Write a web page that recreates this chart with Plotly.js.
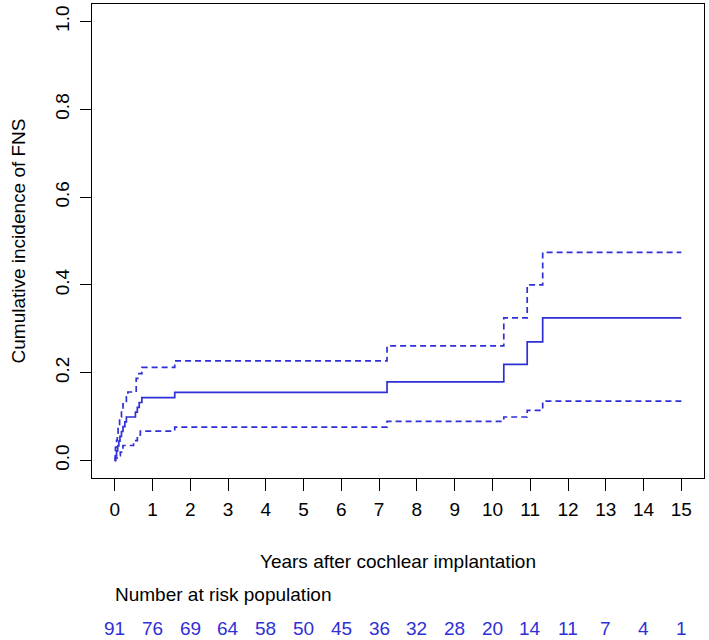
<!DOCTYPE html>
<html>
<head>
<meta charset="utf-8">
<script src="https://cdn.plot.ly/plotly-3.0.1.min.js"></script>
<style>html,body{margin:0;padding:0;background:#fff;}#chart{width:709px;height:640px;}</style>
</head>
<body>
<div id="chart"></div>
<script>
// Cumulative incidence estimate (step function)
var estTime = [0, 0.02, 0.05, 0.08, 0.11, 0.14, 0.18, 0.22, 0.27, 0.31, 0.55, 0.60, 0.65, 0.72, 1.59, 7.21, 10.30, 10.92, 11.33, 15.0];
var estValue = [0, 0.011, 0.022, 0.033, 0.044, 0.055, 0.066, 0.077, 0.088, 0.099, 0.110, 0.121, 0.132, 0.143, 0.155, 0.179, 0.219, 0.270, 0.325, 0.325];

// Upper confidence limit
var upperTime = [0, 0.02, 0.05, 0.07, 0.09, 0.13, 0.18, 0.22, 0.31, 0.35, 0.57, 0.64, 0.72, 1.59, 7.21, 10.30, 10.92, 11.33, 15.0];
var upperValue = [0, 0.030, 0.046, 0.062, 0.076, 0.099, 0.114, 0.129, 0.145, 0.156, 0.187, 0.198, 0.212, 0.227, 0.261, 0.325, 0.400, 0.474, 0.474];

// Lower confidence limit
var lowerTime = [0, 0.02, 0.06, 0.15, 0.22, 0.50, 0.60, 0.68, 1.59, 7.21, 10.30, 10.92, 11.33, 15.0];
var lowerValue = [0, 0.005, 0.011, 0.019, 0.034, 0.045, 0.058, 0.067, 0.076, 0.089, 0.099, 0.114, 0.135, 0.135];

// Number at risk table
var riskTimes = [0, 1, 2, 3, 4, 5, 6, 7, 8, 9, 10, 11, 12, 13, 14, 15];
var atRisk = [91, 76, 69, 64, 58, 50, 45, 36, 32, 28, 20, 14, 11, 7, 4, 1];

var xTicks = [0, 1, 2, 3, 4, 5, 6, 7, 8, 9, 10, 11, 12, 13, 14, 15];
var yTicks = [0, 0.2, 0.4, 0.6, 0.8, 1.0];
var yTickLabels = ["0.0", "0.2", "0.4", "0.6", "0.8", "1.0"];

var blue = "#2f2fd6";
var fontFam = "Liberation Sans, Arial, sans-serif";
var fs = 19;

var traces = [
  {x: estTime, y: estValue, mode: "lines", line: {shape: "hv", color: blue, width: 1.7}, hoverinfo: "skip"},
  {x: upperTime, y: upperValue, mode: "lines", line: {shape: "hv", color: blue, width: 1.7, dash: "6px,4px"}, hoverinfo: "skip"},
  {x: lowerTime, y: lowerValue, mode: "lines", line: {shape: "hv", color: blue, width: 1.7, dash: "6px,4px"}, hoverinfo: "skip"}
];

var annotations = [{
  xref: "x", yref: "paper", x: riskTimes[0], y: 0, xanchor: "left", yanchor: "middle",
  yshift: -116, xshift: -2, showarrow: false, text: "Number at risk population",
  font: {family: fontFam, size: fs, color: "#000"}
}];
for (var i = 0; i < riskTimes.length; i++) {
  annotations.push({
    xref: "x", yref: "paper", x: riskTimes[i], y: 0, xanchor: "center", yanchor: "middle",
    yshift: -150, showarrow: false, text: String(atRisk[i]),
    font: {family: fontFam, size: fs, color: blue}
  });
}

var layout = {
  width: 709, height: 640,
  margin: {l: 92, r: 5, t: 4, b: 162},
  paper_bgcolor: "#fff", plot_bgcolor: "#fff",
  showlegend: false,
  font: {family: fontFam, size: fs, color: "#000"},
  xaxis: {
    range: [-0.6, 15.6], tickvals: xTicks, ticktext: xTicks.map(String),
    showgrid: false, zeroline: false, showline: true, mirror: true,
    linecolor: "#000", linewidth: 1, ticks: "outside", ticklen: 12, tickcolor: "#000",
    tickfont: {family: fontFam, size: fs, color: "#000"}, ticklabelstandoff: 2,
    title: {text: "Years after cochlear implantation", font: {family: fontFam, size: fs, color: "#000"}, standoff: 35}
  },
  yaxis: {
    range: [-0.04, 1.04], tickvals: yTicks, ticktext: yTickLabels,
    showgrid: false, zeroline: false, showline: true, mirror: true,
    linecolor: "#000", linewidth: 1, ticks: "outside", ticklen: 11, tickcolor: "#000",
    tickangle: -90, tickfont: {family: fontFam, size: fs, color: "#000"}, ticklabelstandoff: 3,
    title: {text: "Cumulative incidence of FNS", font: {family: fontFam, size: fs, color: "#000"}, standoff: 21}
  },
  annotations: annotations
};

Plotly.newPlot("chart", traces, layout, {staticPlot: true, displayModeBar: false});
</script>
</body>
</html>
